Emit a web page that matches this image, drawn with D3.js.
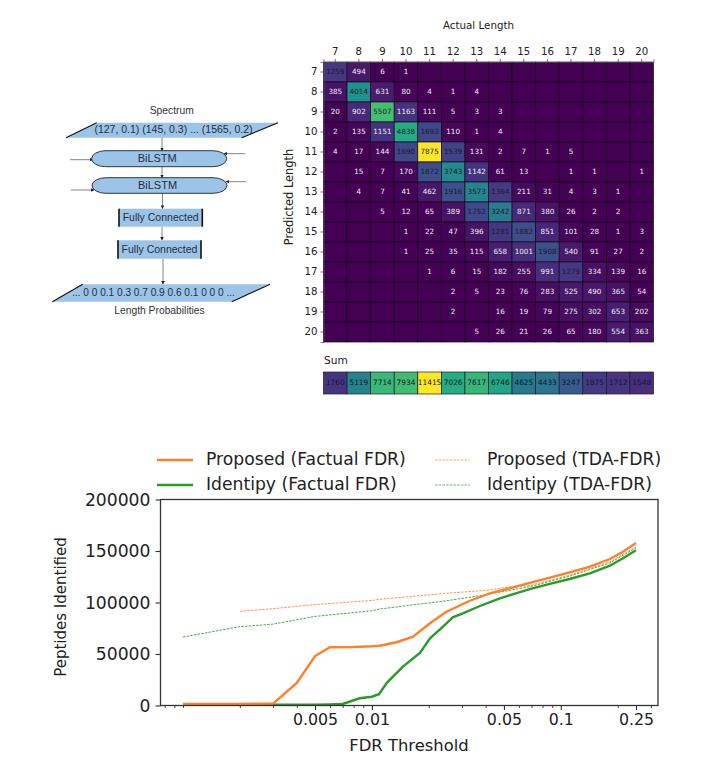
<!DOCTYPE html>
<html>
<head>
<meta charset="utf-8">
<script src="https://cdn.jsdelivr.net/npm/d3@7"></script>
<style>
  html, body { margin: 0; padding: 0; background: #fff; }
  svg { display: block; }
  text { font-family: 'DejaVu Sans', sans-serif; }
</style>
</head>
<body>
<svg id="chart" width="720" height="772"></svg>
<script>
// heatmap values, rows are predicted length, columns actual length
const lengths = [7, 8, 9, 10, 11, 12, 13, 14, 15, 16, 17, 18, 19, 20]
const matrix = [
  [1259, 494, 6, 1, null, null, null, null, null, null, null, null, null, null],
  [385, 4014, 631, 80, 4, 1, 4, null, null, null, null, null, null, null],
  [20, 902, 5507, 1163, 111, 5, 3, 3, null, null, null, null, null, null],
  [2, 135, 1151, 4838, 1693, 110, 1, 4, null, null, null, null, null, null],
  [4, 17, 144, 1690, 7875, 1539, 131, 2, 7, 1, 5, null, null, null],
  [null, 15, 7, 170, 1872, 3743, 1142, 61, 13, null, 1, 1, null, 1],
  [null, 4, 7, 41, 462, 1916, 3573, 1364, 211, 31, 4, 3, 1, null],
  [null, null, 5, 12, 65, 389, 1752, 3242, 871, 380, 26, 2, 2, null],
  [null, null, null, 1, 22, 47, 396, 1281, 1882, 851, 101, 28, 1, 3],
  [null, null, null, 1, 25, 35, 115, 658, 1001, 1908, 540, 91, 27, 2],
  [null, null, null, null, 1, 6, 15, 182, 255, 991, 1279, 334, 139, 16],
  [null, null, null, null, null, 2, 5, 23, 76, 283, 525, 490, 365, 54],
  [null, null, null, null, null, 2, null, 16, 19, 79, 275, 302, 653, 202],
  [null, null, null, null, null, null, 5, 26, 21, 26, 65, 180, 554, 363]
]
const sums = [1760, 5119, 7714, 7934, 11415, 7026, 7617, 6746, 4625, 4433, 3247, 1875, 1712, 1548]

// line chart values as [fdr, peptides]
const proposedFactual = [[0.001, 1500], [0.002, 1600], [0.003, 1800], [0.004, 22000], [0.005, 48000], [0.006, 56500], [0.008, 56800], [0.01, 57500], [0.011, 58000], [0.0135, 61400], [0.0165, 66800], [0.0203, 79800], [0.0248, 91000], [0.033, 101700], [0.0421, 108900], [0.0537, 113800], [0.0685, 119000], [0.0875, 124100], [0.1114, 129300], [0.1425, 134800], [0.1819, 142200], [0.2134, 149300], [0.25, 157800]]
const identipyFactual = [[0.001, 700], [0.003, 700], [0.005, 700], [0.006, 1000], [0.007, 1500], [0.0086, 7000], [0.01, 8500], [0.0109, 11000], [0.012, 22000], [0.0125, 25400], [0.0146, 37700], [0.018, 51300], [0.0203, 65200], [0.0238, 76500], [0.0268, 85600], [0.0303, 89500], [0.0373, 96600], [0.0476, 104000], [0.0685, 113000], [0.0875, 118000], [0.1114, 122800], [0.1425, 128300], [0.1819, 135700], [0.2134, 142900], [0.25, 150700]]
const proposedTda = [[0.002, 91500], [0.003, 94000], [0.005, 98000], [0.01, 102000], [0.011, 103100], [0.0248, 108900], [0.0421, 112100], [0.0519, 114800], [0.0685, 116500], [0.1114, 126500], [0.1819, 139500], [0.25, 154000]]
const identipyTda = [[0.001, 66500], [0.002, 76500], [0.003, 79000], [0.005, 86500], [0.01, 92000], [0.011, 93700], [0.0248, 101700], [0.0373, 106600], [0.0685, 115300], [0.1114, 125500], [0.1819, 138500], [0.25, 153000]]

const fdrMajor = [0.005, 0.01, 0.05, 0.1, 0.25]
const peptideTicks = [0, 50000, 100000, 150000, 200000]
const legendRows = [
  { label: 'Proposed (Factual FDR)', color: '#ff7f2a', dashed: false, col: 0, row: 0 },
  { label: 'Identipy (Factual FDR)', color: '#2a9a2a', dashed: false, col: 0, row: 1 },
  { label: 'Proposed (TDA-FDR)', color: '#ff7f2a', dashed: true, col: 1, row: 0 },
  { label: 'Identipy (TDA-FDR)', color: '#2a9a2a', dashed: true, col: 1, row: 1 }
]

const svg = d3.select('#chart')

drawFlow()
drawHeatmap()
drawLines()

/**
 * Network diagram on the left
 */
function drawFlow () {
  const g = svg.append('g')
  const blue = '#9cc3e8'
  const ink = '#1f2f3f'

  const defs = svg.append('defs')
  defs.append('marker')
    .attr('id', 'head')
    .attr('viewBox', '0 0 6 6')
    .attr('refX', 5.5)
    .attr('refY', 3)
    .attr('markerWidth', 4)
    .attr('markerHeight', 4)
    .attr('orient', 'auto')
    .append('path')
    .attr('d', 'M0,0L6,3L0,6Z')
    .attr('fill', '#222')

  const arrows = [
    [162, 137.7, 162, 151], [162, 166.7, 162, 178], [162.5, 193.3, 162.5, 208.7], [162, 226.7, 162, 240.3], [163, 258.7, 163, 284.3],
    [70, 159.7, 93, 159.7], [245, 153.7, 224, 153.7], [71, 190, 94, 190], [246, 181.7, 226, 181.7]
  ]
  g.selectAll('line.arrow')
    .data(arrows)
    .enter()
    .append('line')
    .attr('class', 'arrow')
    .attr('x1', d => d[0])
    .attr('y1', d => d[1])
    .attr('x2', d => d[2])
    .attr('y2', d => d[3])
    .attr('stroke', '#777')
    .attr('stroke-width', 0.9)
    .attr('marker-end', 'url(#head)')

  const slants = [
    { pts: [[96.7, 122.7], [278, 122.7], [241.7, 137.7], [66, 137.7]], text: '(127, 0.1) (145, 0.3) ... (1565, 0.2)', x: 173.5, size: 10.5 },
    { pts: [[82.7, 284.3], [270, 284.3], [231.7, 301.7], [52.3, 301.7]], text: '... 0 0 0.1 0.3 0.7 0.9 0.6 0.1 0 0 0 ...', x: 153.5, size: 10.1 }
  ]
  slants.forEach(s => {
    g.append('polygon')
      .attr('points', s.pts.map(p => p.join(',')).join(' '))
      .attr('fill', blue)
    g.append('line').attr('x1', s.pts[0][0]).attr('y1', s.pts[0][1]).attr('x2', s.pts[3][0]).attr('y2', s.pts[3][1])
      .attr('stroke', '#111').attr('stroke-width', 1.1)
    g.append('line').attr('x1', s.pts[1][0]).attr('y1', s.pts[1][1]).attr('x2', s.pts[2][0]).attr('y2', s.pts[2][1])
      .attr('stroke', '#111').attr('stroke-width', 1.1)
    g.append('text')
      .attr('x', s.x)
      .attr('y', (s.pts[0][1] + s.pts[3][1]) / 2 + 0.5)
      .attr('text-anchor', 'middle')
      .attr('dominant-baseline', 'middle')
      .style('font-family', "'Liberation Sans', sans-serif")
      .style('font-size', s.size + 'px')
      .attr('fill', ink)
      .text(s.text)
  })

  const pills = [[91.7, 150.7, 135, 16], [92, 177.7, 135, 15.6]]
  pills.forEach(p => {
    g.append('rect')
      .attr('x', p[0])
      .attr('y', p[1])
      .attr('width', p[2])
      .attr('height', p[3])
      .attr('rx', 14)
      .attr('ry', p[3] / 2)
      .attr('fill', blue)
      .attr('stroke', '#1a2530')
      .attr('stroke-width', 0.9)
    g.append('text')
      .attr('x', p[0] + 65.5)
      .attr('y', p[1] + p[3] / 2 + 0.5)
      .attr('text-anchor', 'middle')
      .attr('dominant-baseline', 'middle')
      .style('font-family', "'Liberation Sans', sans-serif")
      .style('font-size', '11px')
      .attr('fill', ink)
      .text('BiLSTM')
  })

  const boxes = [[119, 208.7, 83.3, 18], [118, 240.3, 83, 18.4]]
  boxes.forEach(b => {
    g.append('rect')
      .attr('x', b[0])
      .attr('y', b[1])
      .attr('width', b[2])
      .attr('height', b[3])
      .attr('fill', blue)
    ;[b[0], b[0] + b[2]].forEach(x => {
      g.append('line').attr('x1', x).attr('x2', x).attr('y1', b[1]).attr('y2', b[1] + b[3])
        .attr('stroke', '#111').attr('stroke-width', 1.6)
    })
    g.append('text')
      .attr('x', b[0] + b[2] / 2)
      .attr('y', b[1] + b[3] / 2 + 0.5)
      .attr('text-anchor', 'middle')
      .attr('dominant-baseline', 'middle')
      .style('font-family', "'Liberation Sans', sans-serif")
      .style('font-size', '10.5px')
      .attr('fill', ink)
      .text('Fully Connected')
  })

  const captions = [['Spectrum', 171.7, 111.7], ['Length Probabilities', 159.5, 311]]
  captions.forEach(c => {
    g.append('text')
      .attr('x', c[1])
      .attr('y', c[2])
      .attr('text-anchor', 'middle')
      .attr('dominant-baseline', 'middle')
      .style('font-family', "'Liberation Sans', sans-serif")
      .style('font-size', '10.3px')
      .attr('fill', '#333')
      .text(c[0])
  })
}

/**
 * Confusion matrix with the sum strip under it
 */
function drawHeatmap () {
  const left = 323.5
  const right = 653.5
  const top = 62
  const bottom = 342
  const sumTop = 372
  const sumBottom = 394

  const x = d3.scaleBand().domain(lengths).range([left, right])
  const y = d3.scaleBand().domain(lengths).range([top, bottom])
  const color = d3.scaleSequential(d3.interpolateViridis).domain([0, d3.max(matrix.flat())])
  const sumColor = d3.scaleSequential(d3.interpolateViridis).domain([0, d3.max(sums)])

  const cells = matrix.flatMap((row, i) => row.map((v, j) => ({ row: lengths[i], col: lengths[j], v })))

  const g = svg.append('g')
  g.selectAll('rect.cell')
    .data(cells)
    .enter()
    .append('rect')
    .attr('class', 'cell')
    .attr('x', d => x(d.col))
    .attr('y', d => y(d.row))
    .attr('width', x.bandwidth())
    .attr('height', y.bandwidth())
    .attr('fill', d => color(d.v === null ? 0 : d.v))
    .attr('stroke', '#14051f')
    .attr('stroke-width', 0.7)

  g.selectAll('text.cell')
    .data(cells.filter(d => d.v !== null))
    .enter()
    .append('text')
    .attr('class', 'cell')
    .attr('x', d => x(d.col) + x.bandwidth() / 2)
    .attr('y', d => y(d.row) + y.bandwidth() / 2 + 0.3)
    .attr('text-anchor', 'middle')
    .attr('dominant-baseline', 'middle')
    .style('font-size', '7.2px')
    .attr('fill', d => d.v >= 1200 ? '#1a1a2a' : '#eee')
    .text(d => d.v)

  const xAxis = g.append('g')
    .attr('transform', `translate(0,${top})`)
    .call(d3.axisTop(x).tickSize(3).tickPadding(4))
  const yAxis = g.append('g')
    .attr('transform', `translate(${left},0)`)
    .call(d3.axisLeft(y).tickSize(3).tickPadding(3))
  ;[xAxis, yAxis].forEach(a => {
    a.select('.domain').attr('stroke', '#555').attr('stroke-width', 0.7)
    a.selectAll('line').attr('stroke', '#333').attr('stroke-width', 0.7)
    a.selectAll('text').style('font-size', '10.2px').attr('fill', '#222')
  })

  g.append('text')
    .attr('x', 478.5)
    .attr('y', 26)
    .attr('text-anchor', 'middle')
    .attr('dominant-baseline', 'middle')
    .style('font-size', '10.3px')
    .attr('fill', '#222')
    .text('Actual Length')
  g.append('text')
    .attr('transform', 'translate(289,197) rotate(-90)')
    .attr('text-anchor', 'middle')
    .attr('dominant-baseline', 'middle')
    .style('font-size', '11.4px')
    .attr('fill', '#222')
    .text('Predicted Length')
  g.append('text')
    .attr('x', 324)
    .attr('y', 361)
    .attr('dominant-baseline', 'middle')
    .style('font-size', '10.6px')
    .attr('fill', '#222')
    .text('Sum')

  g.selectAll('rect.sum')
    .data(sums)
    .enter()
    .append('rect')
    .attr('class', 'sum')
    .attr('x', (d, i) => x(lengths[i]))
    .attr('y', sumTop)
    .attr('width', x.bandwidth())
    .attr('height', sumBottom - sumTop)
    .attr('fill', d => sumColor(d))
    .attr('stroke', '#1a1a2a')
    .attr('stroke-width', 0.7)
  g.selectAll('text.sum')
    .data(sums)
    .enter()
    .append('text')
    .attr('class', 'sum')
    .attr('x', (d, i) => x(lengths[i]) + x.bandwidth() / 2)
    .attr('y', (sumTop + sumBottom) / 2 + 0.3)
    .attr('text-anchor', 'middle')
    .attr('dominant-baseline', 'middle')
    .style('font-size', '7.4px')
    .attr('fill', '#15152a')
    .text(d => d)
}

/**
 * FDR threshold line chart at the bottom
 */
function drawLines () {
  const left = 160.5
  const right = 658
  const top = 499.5
  const bottom = 705.5

  const x = d3.scaleLog().domain([0.00076, 0.327]).range([left, right])
  const y = d3.scaleLinear().domain([0, 200000]).range([bottom, top])
  const line = d3.line().x(d => x(d[0])).y(d => y(d[1]))

  const g = svg.append('g')
  const series = [
    { data: identipyTda, color: '#2a9a2a', dashed: true },
    { data: proposedTda, color: '#ff7f2a', dashed: true },
    { data: identipyFactual, color: '#2a9a2a', dashed: false },
    { data: proposedFactual, color: '#ff7f2a', dashed: false }
  ]
  g.selectAll('path.series')
    .data(series)
    .enter()
    .append('path')
    .attr('class', 'series')
    .attr('d', d => line(d.data))
    .attr('fill', 'none')
    .attr('stroke', d => d.color)
    .attr('stroke-width', d => d.dashed ? 1 : 2.4)
    .attr('stroke-dasharray', d => d.dashed ? '2.5,1.2' : null)
    .attr('opacity', d => d.dashed ? 0.85 : 1)

  g.append('rect')
    .attr('x', left)
    .attr('y', top)
    .attr('width', right - left)
    .attr('height', bottom - top)
    .attr('fill', 'none')
    .attr('stroke', '#333')
    .attr('stroke-width', 1.3)

  const minor = x.ticks().filter(t => !fdrMajor.includes(t))
  const minorAxis = g.append('g')
    .attr('transform', `translate(0,${bottom})`)
    .call(d3.axisBottom(x).tickValues(minor).tickSize(2.5).tickFormat(''))
  minorAxis.select('.domain').remove()
  minorAxis.selectAll('line').attr('stroke', '#333').attr('stroke-width', 0.9)

  const xAxis = g.append('g')
    .attr('transform', `translate(0,${bottom})`)
    .call(d3.axisBottom(x).tickValues(fdrMajor).tickSize(4.5).tickPadding(4).tickFormat(d => String(d)))
  xAxis.select('.domain').remove()
  xAxis.selectAll('line').attr('stroke', '#333').attr('stroke-width', 1.1)
  xAxis.selectAll('text').style('font-size', '15.8px').attr('fill', '#222')

  const yAxis = g.append('g')
    .attr('transform', `translate(${left},0)`)
    .call(d3.axisLeft(y).tickValues(peptideTicks).tickSize(5).tickPadding(5).tickFormat(d => String(d)))
  yAxis.select('.domain').remove()
  yAxis.selectAll('line').attr('stroke', '#333').attr('stroke-width', 1.1)
  yAxis.selectAll('text').style('font-size', '17.2px').attr('fill', '#222')

  g.append('text')
    .attr('x', 409)
    .attr('y', 746)
    .attr('text-anchor', 'middle')
    .attr('dominant-baseline', 'middle')
    .style('font-size', '16.4px')
    .attr('fill', '#222')
    .text('FDR Threshold')
  g.append('text')
    .attr('transform', 'translate(61,607) rotate(-90)')
    .attr('text-anchor', 'middle')
    .attr('dominant-baseline', 'middle')
    .style('font-size', '15px')
    .attr('fill', '#222')
    .text('Peptides Identified')

  const colX = [157, 435]
  const rowY = [460, 485]
  const legend = g.selectAll('g.legend')
    .data(legendRows)
    .enter()
    .append('g')
    .attr('class', 'legend')
    .attr('transform', d => `translate(${colX[d.col]},${rowY[d.row]})`)
  legend.append('line')
    .attr('x2', d => d.dashed ? 35 : 36)
    .attr('stroke', d => d.color)
    .attr('stroke-width', d => d.dashed ? 1 : 2.4)
    .attr('stroke-dasharray', d => d.dashed ? '2.5,1.2' : null)
    .attr('opacity', d => d.dashed ? 0.7 : 1)
  legend.append('text')
    .attr('x', d => d.dashed ? 52 : 49)
    .attr('dominant-baseline', 'middle')
    .style('font-size', '17.2px')
    .attr('fill', '#222')
    .text(d => d.label)
}
</script>
</body>
</html>
